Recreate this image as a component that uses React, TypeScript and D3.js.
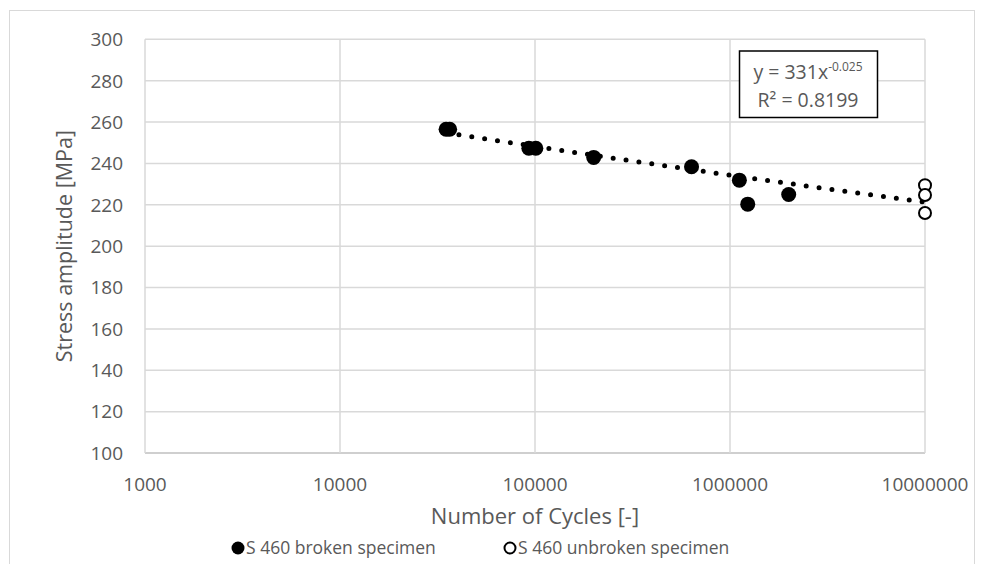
import React from "react";
import * as d3 from "d3";

const brokenCycles = [35000, 36500, 93000, 101000, 200000, 635000, 1117000, 1233000, 2000000];
const brokenStress = [256.5, 256.5, 247.3, 247.3, 242.9, 238.4, 231.9, 220.3, 225];
const unbrokenCycles = [10000000, 10000000, 10000000];
const unbrokenStress = [229.5, 224.7, 216];
const xTicks = [1000, 10000, 100000, 1000000, 10000000];
const yTicks = [100, 120, 140, 160, 180, 200, 220, 240, 260, 280, 300];
const trendCoef = 331;
const trendExp = -0.025;
const trendFrom = 35000;
const trendTo = 10000000;

const W = 984;
const H = 564;
const FONT = "'Open Sans', sans-serif";
const TXT = "#595959";

export default function App() {
  const x = d3.scaleLog().domain([1000, 10000000]).range([145, 925]);
  const y = d3.scaleLinear().domain([100, 300]).range([453, 39.3]);

  const trendPts = d3.range(0, 201).map((i) => {
    const lx = Math.log10(trendFrom) + (Math.log10(trendTo) - Math.log10(trendFrom)) * (i / 200);
    const xv = Math.pow(10, lx);
    return [xv, trendCoef * Math.pow(xv, trendExp)] as [number, number];
  });
  const line = d3
    .line<[number, number]>()
    .x((d) => x(d[0]))
    .y((d) => y(d[1]));

  return (
    <svg
      width={W}
      height={H}
      style={{ position: "absolute", left: 0, top: 0, background: "#fff" }}
      fontFamily={FONT}
    >
      <rect x={0} y={0} width={W} height={H} fill="#fff" />
      <rect x={9.5} y={10.5} width={965} height={570} fill="none" stroke="#d9d9d9" strokeWidth={1} />
      {/* gridlines */}
      {yTicks.map((t) => (
        <line
          key={"gy" + t}
          x1={x(1000)}
          x2={x(10000000)}
          y1={y(t)}
          y2={y(t)}
          stroke={t === 100 ? "#bfbfbf" : "#d9d9d9"}
          strokeWidth={1.5}
        />
      ))}
      {xTicks.map((t) => (
        <line key={"gx" + t} x1={x(t)} x2={x(t)} y1={y(300)} y2={y(100)} stroke="#d9d9d9" strokeWidth={1.5} />
      ))}
      {/* tick labels */}
      {yTicks.map((t) => (
        <text key={"ty" + t} x={123} y={y(t)} dy="0.36em" textAnchor="end" fontSize={19} fill={TXT}>
          {t}
        </text>
      ))}
      {xTicks.map((t) => (
        <text key={"tx" + t} x={x(t)} y={491} textAnchor="middle" fontSize={19} fill={TXT}>
          {t}
        </text>
      ))}
      {/* axis titles */}
      <text
        transform={`translate(72,${(y(100) + y(300)) / 2}) rotate(-90)`}
        textAnchor="middle"
        fontSize={21.5}
        fill={TXT}
      >
        Stress amplitude [MPa]
      </text>
      <text x={(x(1000) + x(10000000)) / 2} y={524} textAnchor="middle" fontSize={22} fill={TXT}>
        Number of Cycles [-]
      </text>
      {/* trend line */}
      <path
        d={line(trendPts) || ""}
        fill="none"
        stroke="#000"
        strokeWidth={5}
        strokeLinecap="round"
        strokeDasharray="0 13"
      />
      {/* broken */}
      {brokenCycles.map((c, i) => (
        <circle key={"b" + i} cx={x(c)} cy={y(brokenStress[i])} r={7.5} fill="#000" />
      ))}
      {/* unbroken */}
      {unbrokenCycles.map((c, i) => (
        <circle
          key={"u" + i}
          cx={x(c)}
          cy={y(unbrokenStress[i])}
          r={6}
          fill="#fff"
          stroke="#000"
          strokeWidth={2}
        />
      ))}
      {/* equation box */}
      <rect x={739.5} y={51} width={138} height={66.5} fill="#fff" stroke="#000" strokeWidth={1.5} />
      <text x={808} y={79} textAnchor="middle" fontSize={19.5} fill={TXT}>
        y = 331x<tspan fontSize={12} dy={-8}>-0.025</tspan>
      </text>
      <text x={808} y={107} textAnchor="middle" fontSize={19.5} fill={TXT}>
        R² = 0.8199
      </text>
      {/* legend */}
      <circle cx={238} cy={548} r={6.5} fill="#000" />
      <text x={246} y={548} dy="0.36em" fontSize={17.5} fill={TXT}>
        S 460 broken specimen
      </text>
      <circle cx={510} cy={548} r={5.5} fill="#fff" stroke="#000" strokeWidth={2} />
      <text x={518} y={548} dy="0.36em" fontSize={17.5} fill={TXT}>
        S 460 unbroken specimen
      </text>
    </svg>
  );
}
